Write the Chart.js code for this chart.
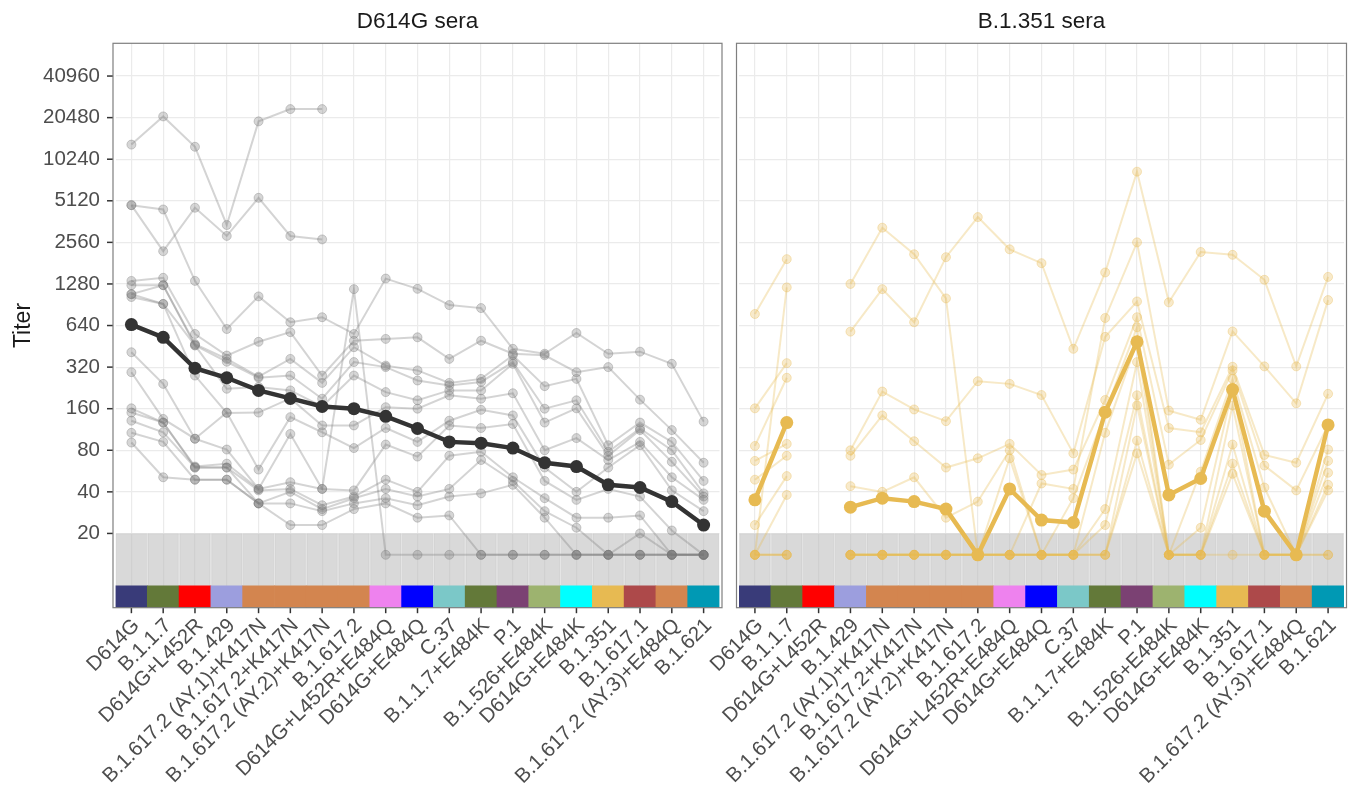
<!DOCTYPE html>
<html>
<head>
<meta charset="utf-8">
<script src="https://cdn.jsdelivr.net/npm/chart.js@4"></script>
<style>
  html, body { margin: 0; padding: 0; background: #fff; }
  #wrap { position: relative; width: 1351px; height: 794px; overflow: hidden; }
  canvas { position: absolute; top: 0; }
  #c1 { left: 0; }
  #c2 { left: 700px; }
</style>
</head>
<body>
<div id="wrap">
  <canvas id="c1" width="726" height="794"></canvas>
  <canvas id="c2" width="651" height="794"></canvas>
</div>
<script>
// categories (pseudoviruses) and the colour bar under each panel
const variants = ['D614G', 'B.1.1.7', 'D614G+L452R', 'B.1.429', 'B.1.617.2 (AY.1)+K417N',
  'B.1.617.2+K417N', 'B.1.617.2 (AY.2)+K417N', 'B.1.617.2', 'D614G+L452R+E484Q', 'D614G+E484Q',
  'C.37', 'B.1.1.7+E484K', 'P.1', 'B.1.526+E484K', 'D614G+E484K', 'B.1.351', 'B.1.617.1',
  'B.1.617.2 (AY.3)+E484Q', 'B.1.621'];
const stripColors = ['#393b79', '#637939', '#ff0000', '#9c9ede', '#d3854f', '#d3854f', '#d3854f',
  '#d3854f', '#ee82ee', '#0000ff', '#7bc8c8', '#637939', '#7b4173', '#9db36f', '#00ffff',
  '#e7ba52', '#ad494a', '#d3854f', '#0099b4'];

const yTicks = [20, 40, 80, 160, 320, 640, 1280, 2560, 5120, 10240, 20480, 40960];
const lodLine = 20;      // detection limit, grey band below
const bandLow = 8.34;    // top of the colour bar
const axisMin = 5.8;
const axisMax = 70700;

// D614G sera (grey) - one array per serum, 14 = below limit
const d614gA = [13060, 20900, 12600, 3420, 19240, 23600, 23600, null, null, null, null, null, null, null, null, null, null, null, null];
const d614gB = [4760, 2210, 4560, 2850, 5380, 2850, 2690, null, null, null, null, null, null, null, null, null, null, null, null];
const d614g1 = [4760, 4430, 1347, 604, 1040, 676, 735, 556, 1400, 1180, 900, 856, 434, 400, 565, 400, 414, 338, 129];
const d614g2 = [1347, 1418, 556, 388, 488, 573, 278, 497, 512, 526, 367, 497, 400, 390, 294, 320, 186, 112, 65];
const d614g3 = [1254, 1254, 470, 367, 273, 367, 246, 446, 328, 303, 246, 263, 390, 233, 263, 87, 127, 92, 48];
const d614g4 = [1080, 1254, 460, 350, 268, 278, 189, 348, 320, 256, 236, 250, 348, 160, 184, 78, 115, 80, 39];
const d614g5 = [1080, 917, 460, 223, 230, 217, 166, 278, 211, 184, 217, 217, 338, 127, 161, 73, 112, 66, 37];
const d614g6 = [1030, 917, 278, 149, 150, 190, 121, 121, 164, 160, 200, 189, 207, 80, 98, 68, 92, 51, 35];
const d614g7 = [410, 242, 97, 150, 58, 139, 108, 83, 116, 92, 131, 157, 143, 60, 40, 60, 87, 41, 29];
const d614g8 = [294, 135, 97, 81, 42, 105, 42, 41, 88, 72, 121, 116, 124, 48, 35, 42, 37, 21, 14];
const d614g9 = [161, 127, 61, 64, 42, 47, 42, 1174, 14, 14, 14, 14, 14, 14, 14, 14, 14, 14, 14];
const d614g10 = [150, 127, 60, 60, 41, 42, 32, 37, 49, 40, 73, 78, 51, 36, 26, 26, 27, 14, 14];
const d614g11 = [131, 108, 60, 60, 33, 40, 30, 36, 42, 37, 42, 68, 48, 29, 22, 14, 20, 14, 14];
const d614g12 = [107, 92, 49, 49, 33, 33, 29, 33, 36, 32, 37, 39, 45, 26, 14, 14, 14, 14, 14];
const d614g13 = [91, 51, 49, 49, 33, 23, 23, 30, 33, 26, 27, 14, 14, 14, 14, 14, 14, 14, 14];
const d614gMean = [650, 526, 314, 268, 217, 190, 166, 160, 141, 115, 92, 90, 83, 65, 61, 45, 43, 34, 23];

// B.1.351 sera (gold)
const b1351s1 = [776, 1936, null, 578, 1174, 676, 2000, 3900, 2280, 1810, 434, 1550, 8320, 942, 2180, 2080, 1372, 324, 1440];
const b1351s2 = [14, 1208, null, 1280, 3270, 2100, 1006, 14, 14, 46, 42, 726, 2560, 155, 133, 580, 324, 175, 978];
const b1351s3 = [161, 342, null, 80, 213, 158, 130, 253, 242, 201, 76, 530, 956, 116, 108, 322, 74, 65, 205];
const b1351s4 = [86, 268, null, 73, 143, 93, 60, 70, 89, 53, 58, 185, 735, 63, 95, 303, 62, 41, 122];
const b1351s5 = [67, 89, null, 44, 40, 51, 26, 34, 80, 14, 36, 151, 622, 14, 56, 263, 43, 14, 81];
const b1351s6 = [49, 73, null, 14, 14, 14, 14, 14, 70, 14, 14, 107, 488, 14, 22, 220, 14, 14, 67];
const b1351s7 = [23, 52, null, 14, 14, 14, 14, 14, 14, 14, 14, 30, 348, 14, 14, 169, 14, 14, 55];
const b1351s8 = [14, 38, null, 14, 14, 14, 14, 14, 14, 14, 14, 23, 200, 14, 14, 88, 14, 14, 45];
const b1351s9 = [14, 14, null, 14, 14, 14, 14, 14, 14, 14, 14, 14, 169, 14, 14, 64, 14, 14, 41];
const b1351s10 = [14, 14, null, 14, 14, 14, 14, 14, 14, 14, 14, 14, 94, 14, 14, 54, 14, 14, 14];
const b1351s11 = [14, 14, null, 14, 14, 14, 14, 14, 14, 14, 14, 14, 76, 14, 14, 14, 14, 14, 14];
const b1351Mean = [35, 127, null, 31, 36, 34, 30, 14, 42, 25, 24, 151, 488, 38, 50, 220, 29, 14, 122];

const d614gSera = [d614gA, d614gB, d614g1, d614g2, d614g3, d614g4, d614g5, d614g6, d614g7,
  d614g8, d614g9, d614g10, d614g11, d614g12, d614g13];
const b1351Sera = [b1351s1, b1351s2, b1351s3, b1351s4, b1351s5, b1351s6, b1351s7, b1351s8,
  b1351s9, b1351s10, b1351s11];

const FONT = "'Liberation Sans', Arial, sans-serif";
const INSET = 2.5;

// frame, tick marks
const panelFrame = {
  id: 'panelFrame',
  afterDraw(chart, args, opts) {
    const { ctx, chartArea: a, scales } = chart;
    ctx.save();
    ctx.strokeStyle = '#333333';
    ctx.lineWidth = 1.5;
    scales.x.ticks.forEach((t, i) => {
      const x = scales.x.getPixelForTick(i);
      ctx.beginPath(); ctx.moveTo(x, a.bottom); ctx.lineTo(x, a.bottom + 5.5); ctx.stroke();
    });
    if (opts.yTicks) {
      yTicks.forEach(v => {
        const y = scales.y.getPixelForValue(v);
        ctx.beginPath(); ctx.moveTo(a.left - INSET - 6, y); ctx.lineTo(a.left - INSET, y); ctx.stroke();
      });
    }
    ctx.strokeStyle = '#7f7f7f';
    ctx.lineWidth = 1.2;
    ctx.strokeRect(a.left - INSET, a.top, a.right - a.left + 2 * INSET, a.bottom - a.top);
    ctx.restore();
  }
};

function makePanel(id, title, sera, mean, lineRgb, meanColor, showY, yWidth, padRight) {
  const datasets = [];
  datasets.push({
    type: 'bar',
    data: variants.map(() => [bandLow, lodLine]),
    backgroundColor: 'rgba(185,185,185,0.55)',
    borderColor: 'rgba(150,150,150,0.2)',
    borderWidth: { left: 1, right: 1, top: 0, bottom: 0 },
    borderSkipped: false,
    grouped: false,
    categoryPercentage: 1, barPercentage: 1,
    order: 10
  });
  datasets.push({
    type: 'bar',
    data: variants.map(() => [axisMin, bandLow]),
    backgroundColor: stripColors,
    borderWidth: 0,
    grouped: false,
    categoryPercentage: 1, barPercentage: 1,
    order: 9
  });
  sera.forEach(s => {
    datasets.push({
      type: 'line',
      data: s,
      borderColor: 'rgba(' + lineRgb + ',0.32)',
      borderWidth: 2,
      pointRadius: 4.5,
      pointBackgroundColor: 'rgba(' + lineRgb + ',0.3)',
      pointBorderColor: 'rgba(' + lineRgb + ',0.35)',
      pointBorderWidth: 1,
      spanGaps: false,
      tension: 0,
      order: 5
    });
  });
  datasets.push({
    type: 'line',
    data: mean,
    borderColor: meanColor,
    backgroundColor: meanColor,
    borderWidth: 4.5,
    pointRadius: 6.5,
    pointBackgroundColor: meanColor,
    pointBorderWidth: 0,
    spanGaps: false,
    tension: 0,
    order: 1
  });

  return new Chart(document.getElementById(id), {
    type: 'line',
    data: { labels: variants, datasets: datasets },
    plugins: [panelFrame],
    options: {
      responsive: false,
      animation: false,
      layout: { padding: { left: 0, right: padRight, top: 0, bottom: 0 } },
      plugins: {
        legend: { display: false },
        tooltip: { enabled: false },
        title: {
          display: true, text: title, fullSize: false,
          color: '#1a1a1a', font: { family: FONT, size: 22.5, weight: 'normal' },
          padding: { top: 8.5, bottom: 7.8 }
        },
        panelFrame: { yTicks: showY }
      },
      scales: {
        x: {
          type: 'category',
          offset: true,
          grid: { color: '#ebebeb', lineWidth: 1.2, drawTicks: false, offset: false },
          border: { display: false },
          ticks: {
            autoSkip: false, maxRotation: 45, minRotation: 45, padding: 6, labelOffset: 5,
            color: '#4d4d4d', font: { family: FONT, size: 20.5 }
          },
          afterFit: s => { s.height = 186.3; s.paddingLeft = 0; s.paddingRight = 0; }
        },
        y: {
          type: 'logarithmic',
          min: axisMin, max: axisMax,
          afterBuildTicks: s => { s.ticks = yTicks.map(v => ({ value: v })); },
          afterFit: s => { s.width = yWidth; },
          grid: { color: '#ebebeb', lineWidth: 1.2, drawTicks: false },
          border: { display: false },
          ticks: {
            display: showY, padding: 15.5,
            color: '#4d4d4d', font: { family: FONT, size: 20.5 },
            callback: v => String(v)
          },
          title: {
            display: showY, text: 'Titer', color: '#1a1a1a',
            font: { family: FONT, size: 23 }, padding: { top: 10, bottom: 0 }
          }
        }
      }
    }
  });
}

makePanel('c1', 'D614G sera', d614gSera, d614gMean, '120,120,120', '#333333', true, 115.5, 6);
makePanel('c2', 'B.1.351 sera', b1351Sera, b1351Mean, '231,186,82', '#e7ba52', false, 39, 7);
</script>
</body>
</html>
